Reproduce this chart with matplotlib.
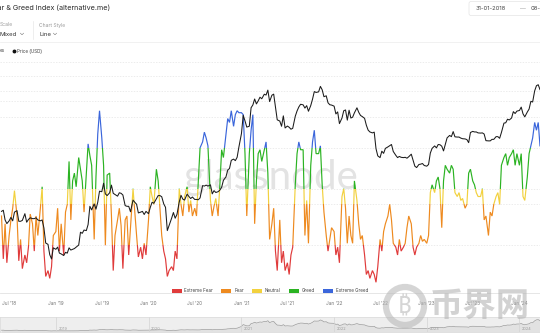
import matplotlib
matplotlib.use("Agg")
import matplotlib.pyplot as plt
import matplotlib.dates as mdates
import matplotlib.transforms as mtransforms
from matplotlib.patches import Rectangle, Patch, Circle, FancyBboxPatch
import pandas as pd

plt.rcParams['font.family'] = ['Inter', 'DejaVu Sans']

# samples taken on these days of every month
sample_days = [1, 8, 15, 22]

# Fear & Greed index, 4 readings per month (2018: Jun-Dec, 2024: Jan-Mar)
fg_2018 = [40, 18, 36, 16, 30, 38, 44, 53, 40, 17, 28, 13, 20, 16, 24, 41,
           36, 22, 40, 30, 44, 55, 22, 9, 12, 8, 14, 30]
fg_2019 = [32, 44, 22, 36, 20, 42, 46, 68, 38, 58, 62, 55, 70, 64, 58, 42,
           62, 77, 71, 66, 28, 60, 82, 94, 80, 66, 25, 61, 62, 40, 12, 30,
           38, 44, 35, 13, 38, 40, 20, 34, 54, 42, 30, 19, 24, 18, 26, 20]
fg_2020 = [38, 55, 50, 46, 64, 58, 44, 30, 22, 18, 9, 12, 14, 12, 22, 18,
           54, 46, 40, 50, 55, 42, 48, 40, 44, 40, 58, 75, 78, 83, 80, 76,
           48, 40, 45, 49, 40, 56, 74, 70, 82, 90, 88, 94, 86, 92, 94, 93]
fg_2021 = [93, 92, 72, 40, 72, 84, 92, 36, 58, 72, 74, 68, 74, 78, 62, 28,
           36, 44, 22, 12, 38, 16, 22, 12, 16, 10, 20, 24, 56, 72, 78, 74,
           74, 30, 48, 26, 66, 78, 84, 72, 72, 76, 56, 42, 30, 22, 28, 34]
fg_2022 = [32, 20, 24, 16, 50, 54, 44, 26, 40, 30, 26, 58, 48, 36, 28, 30,
           20, 10, 12, 8, 12, 10, 6, 14, 28, 22, 32, 36, 40, 46, 38, 26,
           24, 20, 28, 22, 24, 26, 34, 40, 36, 24, 20, 24, 26, 30, 27, 28]
fg_2023 = [26, 30, 52, 56, 52, 58, 60, 54, 34, 58, 66, 64, 62, 66, 64, 52,
           50, 52, 48, 49, 44, 46, 62, 64, 58, 56, 52, 50, 50, 54, 38, 40,
           30, 42, 40, 46, 50, 52, 46, 66, 70, 72, 66, 70, 72, 74, 66, 72]
fg_2024 = [66, 72, 50, 48, 60, 72, 76, 80, 88, 84, 88, 76]

# BTC price (USD), same sampling
price_2018 = [7500, 7650, 6450, 6050, 6350, 6750, 6350, 7400, 7600, 6300, 6300, 6400,
              7200, 6200, 6500, 6700, 6600, 6600, 6700, 6450, 6350, 6450, 5600, 4300,
              4200, 3500, 3250, 3950]
price_2019 = [3850, 4000, 3600, 3550, 3450, 3650, 3600, 3950, 3800, 3850, 3900, 4000,
              4150, 5200, 5100, 5400, 5350, 5950, 8200, 7700, 8550, 7800, 8800, 10700,
              10600, 12300, 10200, 9900, 10400, 11900, 10300, 10100, 9800, 10400, 10300, 10000,
              8300, 8200, 8200, 7450, 9150, 8800, 8500, 7300, 7400, 7500, 7100, 7500]
price_2020 = [7200, 8050, 8800, 8650, 9350, 9900, 9900, 9700, 8550, 8050, 5350, 5850,
              6650, 7350, 6650, 7100, 8850, 9950, 9300, 9150, 10150, 9750, 9400, 9650,
              9250, 9250, 9200, 9500, 11800, 11700, 11900, 11700, 11950, 10200, 10800, 10450,
              10600, 10900, 11450, 12950, 13750, 15500, 15950, 18400, 18800, 18300, 19400, 23250]
price_2021 = [29400, 40600, 36800, 33000, 33500, 46400, 48700, 54100, 49600, 52300, 55800, 54300,
              58800, 58000, 63200, 51700, 57800, 58900, 46800, 37500, 36700, 33500, 40200, 32500,
              33600, 32900, 31800, 32300, 39900, 43800, 47000, 49300, 48800, 46100, 48100, 43600,
              48200, 53900, 61600, 60700, 61300, 67500, 63600, 56300, 57200, 50600, 48900, 48600]
price_2022 = [47700, 41600, 43100, 35100, 38700, 44000, 44600, 37300, 44400, 38700, 39300, 42400,
              46300, 42800, 40500, 39700, 38500, 34100, 31300, 30300, 29800, 30200, 22600, 19900,
              19300, 21600, 20800, 22700, 23300, 23800, 24300, 21500, 20100, 19300, 19700, 19400,
              19300, 19400, 19100, 19600, 20500, 18500, 16600, 16200, 17100, 17200, 17400, 16800]
price_2023 = [16600, 17100, 20900, 22700, 23700, 22900, 24300, 24200, 23600, 21700, 24400, 27300,
              28500, 27900, 30500, 27800, 27700, 27700, 27200, 26900, 26800, 26500, 25100, 30000,
              30600, 30300, 30300, 29800, 29700, 29800, 29200, 26000, 25900, 25900, 26600, 26600,
              27900, 27900, 27100, 30000, 35400, 35600, 37900, 37400, 38700, 43300, 41900, 43700]
price_2024 = [44200, 46900, 41700, 39500, 43000, 45300, 51900, 51300, 62400, 68300, 69500, 63800]

zone_edges = [0, 25, 46, 54, 75, 200]
zone_names = ['Extreme Fear', 'Fear', 'Neutral', 'Greed', 'Extreme Greed']
zone_colors = ['#e03b3b', '#ee8a1f', '#f2d13e', '#2bb322', '#3b66db']

grid_levels = [25, 46, 54, 75, 91, 99, 104, 112, 119]
year_marks = [2019, 2020, 2021, 2022, 2023, 2024]


def month_dates(year, m0, m1):
    return [pd.Timestamp(year, m, d) for m in range(m0, m1 + 1) for d in sample_days]


dates = (month_dates(2018, 6, 12) + month_dates(2019, 1, 12) + month_dates(2020, 1, 12)
         + month_dates(2021, 1, 12) + month_dates(2022, 1, 12) + month_dates(2023, 1, 12)
         + month_dates(2024, 1, 3))
fg = fg_2018 + fg_2019 + fg_2020 + fg_2021 + fg_2022 + fg_2023 + fg_2024
price = price_2018 + price_2019 + price_2020 + price_2021 + price_2022 + price_2023 + price_2024

x_left = pd.Timestamp(2018, 5, 26)
x_right = pd.Timestamp(2024, 3, 22)

fig = plt.figure(figsize=(5.4, 3.36), dpi=100)

# overlay in pixel coordinates for header / watermarks
px = fig.add_axes([0, 0, 1, 1], zorder=5)
px.set_xlim(0, 540)
px.set_ylim(336, 0)
px.axis('off')

# main chart
ax = fig.add_axes([0, 43 / 336, 1, 238 / 336])
ax.set_xlim(x_left, x_right)
ax.set_ylim(0.5, 122.6)
blend = mtransforms.blended_transform_factory(ax.transAxes, ax.transData)
for lo, hi, col in zip(zone_edges[:-1], zone_edges[1:], zone_colors):
    ln, = ax.plot(dates, fg, color=col, lw=0.85, solid_joinstyle='miter')
    ln.set_clip_path(Rectangle((0, lo), 1, hi - lo, transform=blend))

ax.set_yticks(grid_levels)
ax.yaxis.grid(True, color='#e4e4e4', lw=0.5, linestyle=(0, (2, 2)))
ax.tick_params(axis='y', length=0, labelleft=False)
for s in ['top', 'left', 'right']:
    ax.spines[s].set_visible(False)
ax.spines['bottom'].set_color('#e2e2e2')
ax.spines['bottom'].set_linewidth(0.6)
ax.xaxis.set_major_locator(mdates.MonthLocator(bymonth=[1, 7]))
ax.xaxis.set_major_formatter(mdates.DateFormatter("%b '%y"))
ax.tick_params(axis='x', length=0, pad=5.8, labelsize=3.4, labelcolor='#777777')

ax.text(271, 178, 'glassnode', transform=px.transData, ha='center', va='center',
        fontsize=29, color='#e3e3e3', family='Lato', zorder=0)

ax2 = ax.twinx()
ax2.set_yscale('log')
ax2.set_ylim(1786, 117200)
ax2.plot(dates, price, color='#1b1b1b', lw=0.75)
ax2.axis('off')

handles = [Patch(facecolor=c, edgecolor='none') for c in zone_colors]
leg = ax.legend(handles, zone_names, loc='center', bbox_to_anchor=(0.5, 0.134),
                bbox_transform=fig.transFigure, ncol=5, frameon=False, fontsize=3.3,
                handlelength=2.2, handleheight=0.8, handletextpad=0.6, columnspacing=1.8,
                labelcolor='#444444')

# navigator
nav = fig.add_axes([0, 4 / 336, 1, 15 / 336])
nav.set_facecolor('#eeeeee')
nav.set_xlim(x_left, x_right)
nav.set_ylim(-3000, 85000)
nav.fill_between(dates, price, -3000, color='#e2e2e2', lw=0)
nav.plot(dates, price, color='#9c9c9c', lw=0.5)
for yr in year_marks:
    d = pd.Timestamp(yr, 1, 1)
    nav.axvline(d, color='#d4d4d4', lw=0.5)
    nav.text(d + pd.Timedelta(days=10), 3000, str(yr), fontsize=2.8, color='#9a9a9a',
             va='bottom', ha='left')
nav.set_xticks([])
nav.set_yticks([])
for s in nav.spines.values():
    s.set_color('#dadada')
    s.set_linewidth(0.5)

# header
px.text(-11, 8, 'Fear & Greed Index (alternative.me)', fontsize=5.2, color='#2a2a2a',
        va='center', ha='left')
px.text(-0.5, 25, 'Scale', fontsize=3.6, color='#9b9b9b', va='center')
px.text(-0.5, 34, 'Mixed', fontsize=4.3, color='#333333', va='center')
px.text(39, 25, 'Chart Style', fontsize=3.6, color='#9b9b9b', va='center')
px.text(39, 34, 'Line', fontsize=4.3, color='#333333', va='center')
for cx in [22, 55]:
    px.plot([cx - 1.6, cx, cx + 1.6], [33.2, 34.8, 33.2], color='#777777', lw=0.4)
px.plot([33, 33], [21, 39], color='#e8e8e8', lw=0.5)
px.plot([0, 540], [42, 42], color='#ececec', lw=0.5)
px.text(5, 51, 'es', fontsize=3.3, color='#444444', va='center', ha='right')
px.plot([14], [51], marker='o', ms=1.8, color='#111111')
px.text(17, 51, 'Price (USD)', fontsize=3.3, color='#444444', va='center')
px.add_patch(FancyBboxPatch((469, 1.5), 90, 14, boxstyle='round,pad=0,rounding_size=2',
                            facecolor='white', edgecolor='#e4e4e4', lw=0.5))
px.text(476, 8.5, '31-01-2018', fontsize=4.2, color='#444444', va='center')
px.text(520, 8.5, '\u2014', fontsize=4.2, color='#999999', va='center')
px.text(531, 8.5, '08-04-2024', fontsize=4.2, color='#444444', va='center')

# 币界网 watermark
px.add_patch(Circle((405, 306), 19, facecolor='none', edgecolor='#b9b9b9', lw=4.5, alpha=0.6))
px.text(405, 307, '\u20bf', fontsize=17, color='#b9b9b9', alpha=0.6, ha='center', va='center',
        fontweight='bold', family=['Noto Sans', 'DejaVu Sans'])
px.text(480, 306, '币界网', fontsize=24, color='#b5b5b5', alpha=0.6, ha='center', va='center',
        fontweight='bold', family=['Noto Sans CJK SC', 'DejaVu Sans'])

fig.savefig('out.png', dpi=100)
